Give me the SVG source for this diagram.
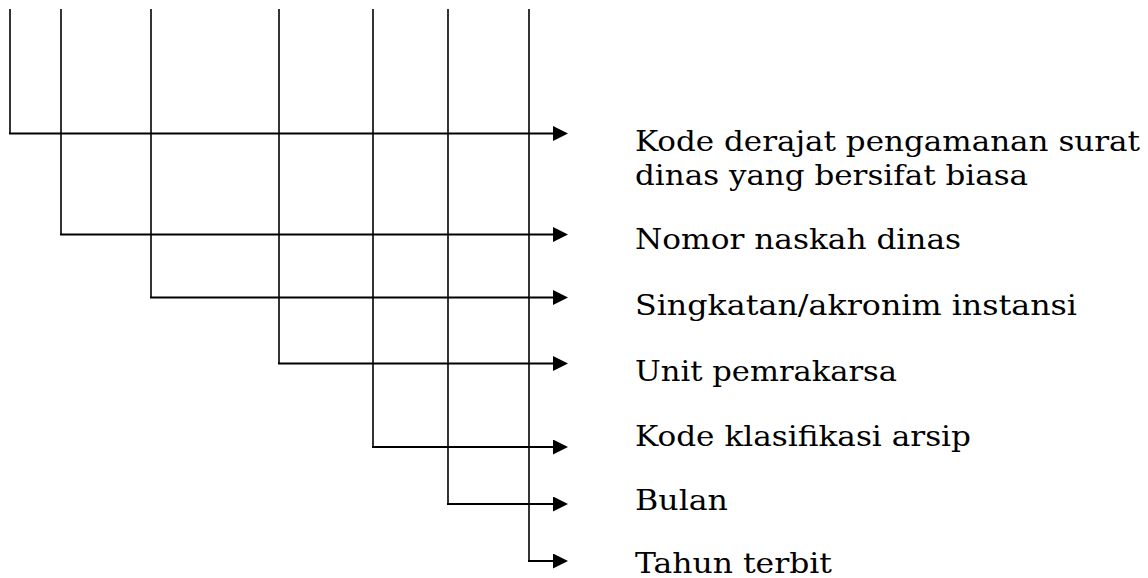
<svg xmlns="http://www.w3.org/2000/svg" width="1148" height="578" viewBox="0 0 1148 578">
<style>
.v{stroke:#000;stroke-width:1.6;fill:none}
.h{stroke:#000;stroke-width:2;fill:none;marker-end:url(#ah)}
.t{font-family:"DejaVu Serif","Liberation Serif",serif;font-size:28px;fill:#000}
</style>
<defs>
<marker id="ah" markerUnits="userSpaceOnUse" markerWidth="16" markerHeight="16" refX="0" refY="7.5" orient="auto">
<path d="M0,0 L15,7.5 L0,15 Z" fill="#000"/>
</marker>
</defs>
<rect width="1148" height="578" fill="#fff"/>
<g id="connectors">
<path class="v" d="M10,9 V133.5"/>
<path class="v" d="M61,9 V234.5"/>
<path class="v" d="M151,9 V297.5"/>
<path class="v" d="M279,9 V363.5"/>
<path class="v" d="M373,9 V447"/>
<path class="v" d="M448,9 V504"/>
<path class="v" d="M529,9 V561"/>
<path class="h" d="M9,133.5 H553"/>
<path class="h" d="M60,234.5 H553"/>
<path class="h" d="M150,297.5 H553"/>
<path class="h" d="M278,363.5 H553"/>
<path class="h" d="M372,447 H553"/>
<path class="h" d="M447,504 H553"/>
<path class="h" d="M528,561 H553"/>
</g>
<g id="n1"><text class="t" x="635" y="151" textLength="505" lengthAdjust="spacingAndGlyphs">Kode derajat pengamanan surat</text><text class="t" x="635" y="185" textLength="393" lengthAdjust="spacingAndGlyphs">dinas yang bersifat biasa</text></g>
<g id="n2"><text class="t" x="635" y="249" textLength="326" lengthAdjust="spacingAndGlyphs">Nomor naskah dinas</text></g>
<g id="n3"><text class="t" x="635" y="315" textLength="442" lengthAdjust="spacingAndGlyphs">Singkatan/akronim instansi</text></g>
<g id="n4"><text class="t" x="635" y="381" textLength="262" lengthAdjust="spacingAndGlyphs">Unit pemrakarsa</text></g>
<g id="n5"><text class="t" x="635" y="446" textLength="336" lengthAdjust="spacingAndGlyphs">Kode klasifikasi arsip</text></g>
<g id="n6"><text class="t" x="635" y="510" textLength="93" lengthAdjust="spacingAndGlyphs">Bulan</text></g>
<g id="n7"><text class="t" x="635" y="573" textLength="197" lengthAdjust="spacingAndGlyphs">Tahun terbit</text></g>
</svg>
